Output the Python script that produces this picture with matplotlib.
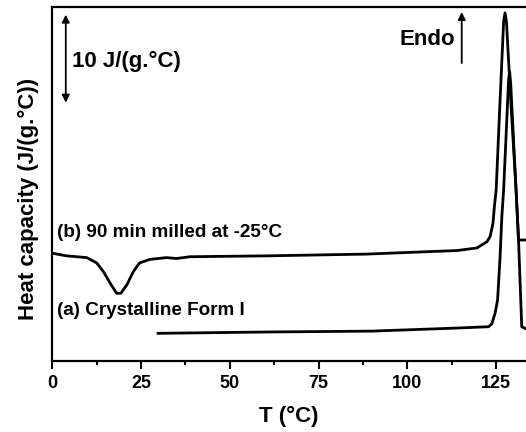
import matplotlib
matplotlib.use('Agg')
import matplotlib.pyplot as plt
from matplotlib.ticker import MultipleLocator

plt.rcParams['font.family'] = ['Liberation Sans', 'DejaVu Sans']
plt.rcParams['font.weight'] = 'bold'

# (b) 90 min milled at -25 C
temp_b = [0, 4.0, 9.7, 12.5, 14.4, 16.3, 18.1, 19.3, 21.0, 22.8, 24.6, 27.5, 32.2,
          35.0, 38.8, 60.4, 88.6, 107.3, 113.9, 119.6, 122.4, 123.3, 124.1, 124.5,
          125.0, 126.1, 127.1, 127.5, 127.9, 129.1, 130.6, 131.3, 132.5, 134.0]
cp_b = [12.3, 12.0, 11.8, 11.2, 10.2, 8.9, 7.75, 7.75, 8.7, 10.2, 11.2, 11.6, 11.8,
        11.7, 11.9, 12.0, 12.2, 12.5, 12.6, 12.9, 13.6, 14.2, 15.7, 17.6,
        19.5, 29.7, 38.6, 39.6, 38.6, 29.7, 19.5, 13.8, 13.8, 13.8]

# (a) Crystalline Form I
temp_a = [29.8, 60, 90, 114, 122.9, 123.8, 124.7, 125.4, 126.1, 126.6, 127.1,
          128.5, 128.8, 129.1, 130.6, 131.3, 132.2, 134.0]
cp_a = [3.2, 3.35, 3.45, 3.8, 3.95, 4.3, 5.5, 7.0, 11.9, 16.5, 19.5,
        32.0, 32.9, 31.5, 19.5, 13.8, 3.95, 3.6]

fig = plt.figure(figsize=(5.26, 4.32), dpi=100)
ax = fig.add_axes([0.0994, 0.1632, 0.9006, 0.8213])

ax.plot(temp_b, cp_b, color='black', lw=2.0)
ax.plot(temp_a, cp_a, color='black', lw=2.0)

ax.set_xlim(0, 133.4)
ax.set_ylim(0, 40.3)

ax.xaxis.set_major_locator(MultipleLocator(25))
ax.xaxis.set_minor_locator(MultipleLocator(12.5))
ax.tick_params(axis='x', which='major', direction='out', length=6, width=1.5,
               labelsize=13, pad=4)
ax.tick_params(axis='x', which='minor', direction='out', length=3, width=1.5)
ax.set_yticks([])
for lab in ax.get_xticklabels():
    lab.set_fontweight('bold')

for s in ['left', 'bottom', 'top']:
    ax.spines[s].set_linewidth(1.6)
ax.spines['right'].set_visible(False)

ax.set_xlabel('T (°C)', fontsize=16, fontweight='bold', labelpad=10)
ax.set_ylabel('Heat capacity (J/(g.°C))', fontsize=16, fontweight='bold')
ax.yaxis.set_label_coords(-0.028, 0.458)

ax.text(1.4, 14.7, '(b) 90 min milled at -25°C', fontsize=13.6, fontweight='bold',
        va='center', ha='left')
ax.text(1.4, 5.8, '(a) Crystalline Form I', fontsize=13.6, fontweight='bold',
        va='center', ha='left')
ax.text(5.5, 34.1, '10 J/(g.°C)', fontsize=16, fontweight='bold', va='center', ha='left')
ax.text(113.4, 36.6, 'Endo', fontsize=16, fontweight='bold', va='center', ha='right')

ax.annotate('', xy=(3.8, 39.4), xytext=(3.8, 29.4),
            arrowprops=dict(arrowstyle='<|-|>', color='black', lw=1.3,
                            mutation_scale=11, shrinkA=0, shrinkB=0))
ax.annotate('', xy=(115.3, 39.7), xytext=(115.3, 33.9),
            arrowprops=dict(arrowstyle='-|>', color='black', lw=1.3,
                            mutation_scale=11, shrinkA=0, shrinkB=0))

fig.savefig('out.png', dpi=100)
